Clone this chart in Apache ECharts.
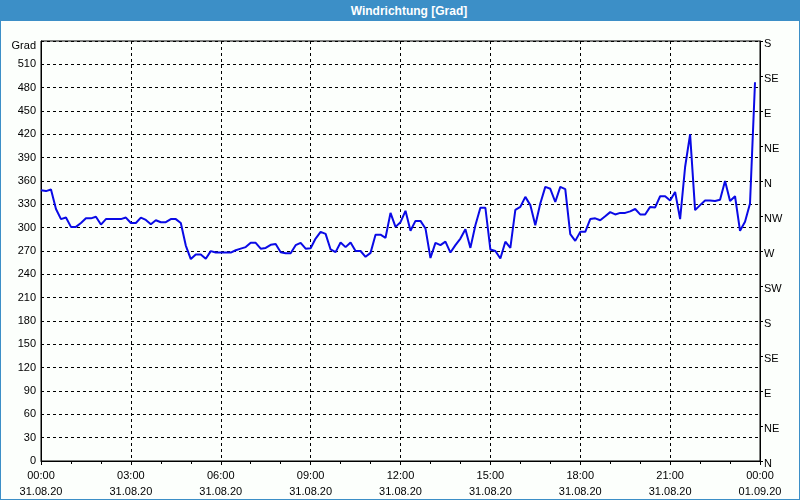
<!DOCTYPE html>
<html>
<head>
<meta charset="utf-8">
<script src="https://cdn.jsdelivr.net/npm/echarts@6/dist/echarts.min.js"></script>
<style>
html,body{margin:0;padding:0;background:#fff;}
#wrap{position:absolute;left:0;top:0;width:798px;height:498px;border:1px solid #3c8fc7;background:#fcfffc;}
#bar{position:absolute;left:0;top:0;width:780px;padding-left:18px;height:20px;background:#3c8fc7;color:#fff;font:bold 12px "Liberation Sans",Arial,sans-serif;text-align:center;line-height:20px;}
#chart{position:absolute;left:0;top:0;width:800px;height:500px;}
</style>
</head>
<body>
<div id="wrap"><div id="bar">Windrichtung [Grad]</div></div>
<div id="chart"></div>
<script>
// Wind direction in degrees, one sample every 10 minutes from 00:00 31.08.20
const values = [
  348,347,349,324,311,313,301,301,306,312,
  312,314,304,311,311,311,311,313,306,306,
  313,310,304.5,309.6,307,307,311,311,306,277,
  259.6,265.5,265.5,260,269.8,268,268,268,268,271,
  273,275,280.5,280.5,273,274,278,279,268.5,267,
  267,277.5,280.5,273,273.5,286,294.6,292,272,268.5,
  281,275,281,270,270,262.5,267.6,291,291,287,
  319,301,307,321.6,296,308.7,308.7,299,261,280.5,
  277.5,282,268,277.5,286,298,274,303,325.6,325.6,
  272,270,260.4,282,274,323,326.7,339.6,329,303,
  331,352.4,350,333,352.4,349.5,291.6,283,294.6,294.6,
  311,312,309.6,314.7,320,317,319,319,321,324,
  317,317,326.7,326,340.4,340.4,335,346,311,378,
  420,322.5,329,335,335,334.4,336,360,334.4,340.4,
  296,307.5,331,487
];
const sampleMinutes = 10;
const hours = values.map((v, i) => i * sampleMinutes / 60);
const xTickHours = [0, 3, 6, 9, 12, 15, 18, 21, 24];
const xTimeLabels = ['00:00','03:00','06:00','09:00','12:00','15:00','18:00','21:00','00:00'];
const xDateLabels = ['31.08.20','31.08.20','31.08.20','31.08.20','31.08.20','31.08.20','31.08.20','31.08.20','01.09.20'];
const compassLabels = ['N','NE','E','SE','S','SW','W','NW','N','NE','E','SE','S'];
const yUnit = 'Grad';

const font = '"Liberation Sans", Arial, sans-serif';
const chart = echarts.init(document.getElementById('chart'), null, {renderer: 'canvas'});
chart.setOption({
  animation: false,
  backgroundColor: 'transparent',
  grid: {left: 41, right: 40, top: 41, bottom: 39, show: true, borderColor: '#000', borderWidth: 1, backgroundColor: 'transparent'},
  xAxis: {
    type: 'value', min: 0, max: 24, interval: 3,
    axisLine: {show: true, lineStyle: {color: '#000', width: 1}},
    axisTick: {show: true, length: 4, lineStyle: {color: '#000'}},
    minorTick: {show: true, splitNumber: 3, length: 3, lineStyle: {color: '#000'}},
    splitLine: {show: true, lineStyle: {color: '#000', type: [3, 3], width: 1}},
    axisLabel: {
      color: '#000', fontFamily: font, fontSize: 11, lineHeight: 16, margin: 7,
      formatter: function (v) {
        const i = xTickHours.indexOf(v);
        return i < 0 ? '' : xTimeLabels[i] + '\n' + xDateLabels[i];
      }
    }
  },
  yAxis: [{
    type: 'value', min: 0, max: 540, interval: 30, position: 'left',
    axisLine: {show: true, lineStyle: {color: '#000'}},
    axisTick: {show: false},
    splitLine: {show: true, lineStyle: {color: '#000', type: [3, 3], width: 1}},
    axisLabel: {
      color: '#000', fontFamily: font, fontSize: 11, margin: 5,
      formatter: function (v) { return v === 540 ? '{g|' + yUnit + '}' : String(v); },
      rich: {g: {color: '#000', fontFamily: font, fontSize: 11, padding: [10, 0, 0, 0]}}
    }
  }, {
    type: 'value', min: 0, max: 540, interval: 45, position: 'right',
    axisLine: {show: true, lineStyle: {color: '#000'}},
    axisTick: {show: true, length: 3, lineStyle: {color: '#000'}},
    splitLine: {show: false},
    axisLabel: {
      color: '#000', fontFamily: font, fontSize: 11, margin: 4,
      formatter: function (v) { return '{c|' + compassLabels[Math.round(v / 45)] + '}'; },
      rich: {c: {color: '#000', fontFamily: font, fontSize: 11, padding: [6, 0, 0, 0]}}
    }
  }],
  series: [{
    type: 'line',
    data: hours.map((h, i) => [h, values[i]]),
    showSymbol: false,
    symbol: 'none',
    lineStyle: {color: '#0a0ae6', width: 2},
    z: 5
  }]
});
</script>
</body>
</html>
